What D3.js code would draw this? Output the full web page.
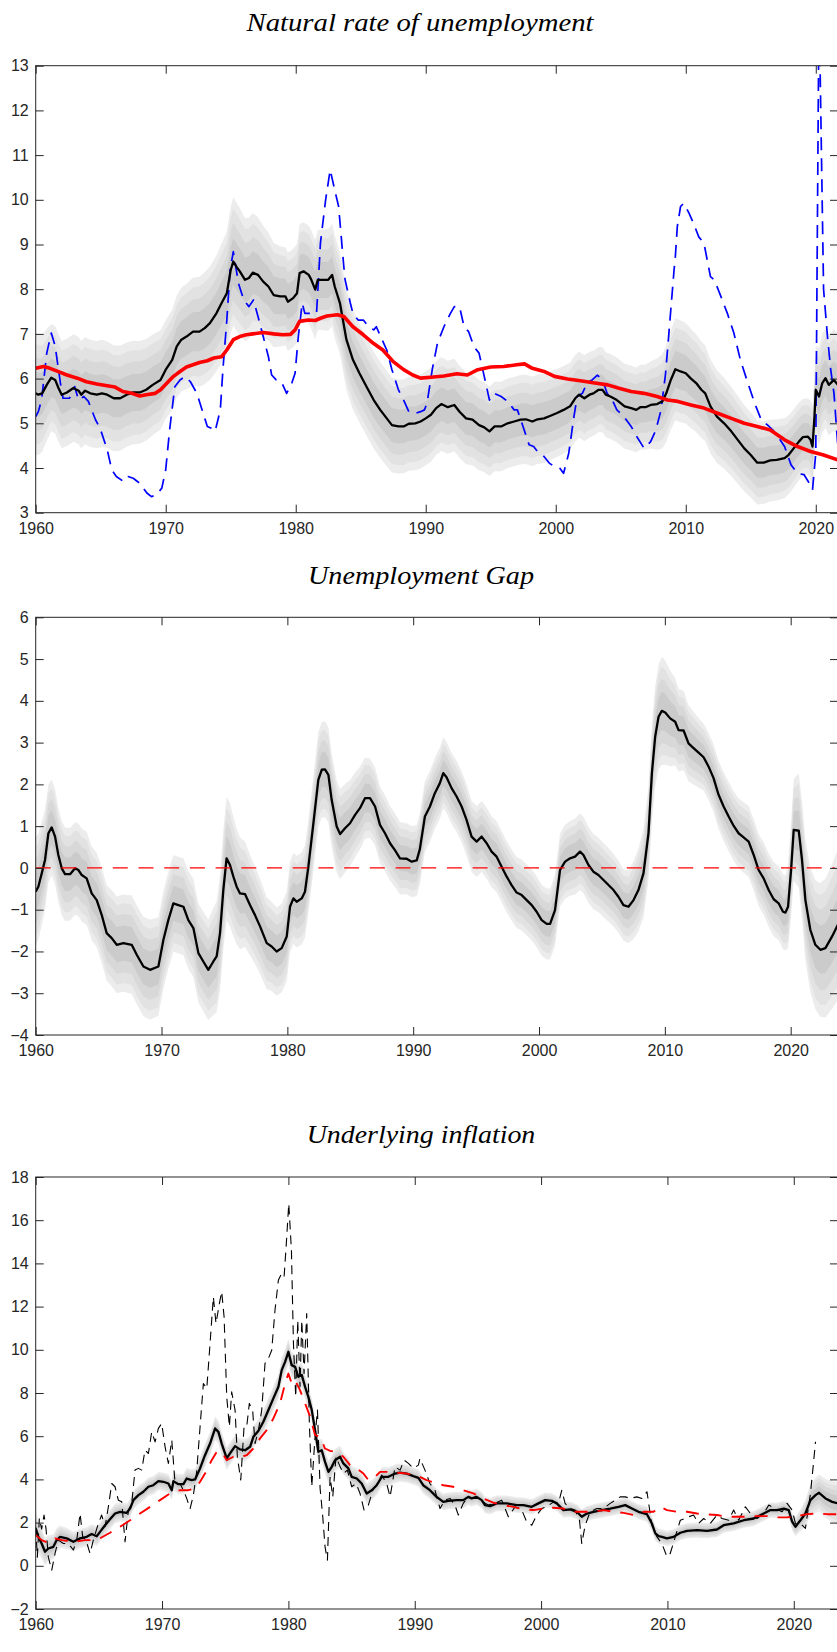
<!DOCTYPE html>
<html>
<head>
<meta charset="utf-8">
<script src="https://cdn.jsdelivr.net/npm/d3@7"></script>
<style>
  body { margin: 0; background: #fff; }
  svg { display: block; }
  .title { font-family: "Liberation Serif", "DejaVu Serif", serif; font-style: italic; fill: #000; }
</style>
</head>
<body>
<svg id="fig" width="837" height="1652"></svg>
<script>
// ---------- data ----------
var yearTicks = [1960, 1970, 1980, 1990, 2000, 2010, 2020];
var natTicks = [3, 4, 5, 6, 7, 8, 9, 10, 11, 12, 13];
var gapTicks = [-4, -3, -2, -1, 0, 1, 2, 3, 4, 5, 6];
var inflTicks = [-2, 0, 2, 4, 6, 8, 10, 12, 14, 16, 18];

// natural rate: median estimate
var natMedian = [[1960.0,5.67],[1960.2,5.64],[1960.5,5.67],[1960.85,5.86],[1961.2,6.02],[1961.5,5.97],[1961.75,5.79],[1962.0,5.64],[1962.4,5.69],[1962.9,5.79],[1963.3,5.73],[1963.5,5.64],[1963.8,5.73],[1964.2,5.67],[1964.7,5.64],[1965.1,5.67],[1965.5,5.64],[1966.0,5.56],[1966.5,5.56],[1967.0,5.64],[1967.5,5.69],[1968.0,5.69],[1968.5,5.75],[1969.0,5.86],[1969.6,5.97],[1970.0,6.2],[1970.5,6.42],[1970.85,6.72],[1971.2,6.87],[1971.6,6.94],[1972.1,7.05],[1972.6,7.05],[1973.0,7.13],[1973.4,7.24],[1973.9,7.46],[1974.3,7.69],[1974.7,7.91],[1975.0,8.43],[1975.2,8.62],[1975.45,8.5],[1975.7,8.40],[1976.1,8.21],[1976.4,8.25],[1976.7,8.37],[1977.1,8.32],[1977.5,8.17],[1977.9,8.06],[1978.3,7.87],[1978.8,7.84],[1979.2,7.84],[1979.4,7.72],[1979.8,7.80],[1980.1,7.91],[1980.3,8.36],[1980.6,8.40],[1981.0,8.32],[1981.2,8.21],[1981.5,7.99],[1981.7,8.21],[1982.1,8.21],[1982.5,8.21],[1982.8,8.32],[1983.0,8.06],[1983.4,7.69],[1983.9,6.87],[1984.4,6.42],[1984.9,6.12],[1985.5,5.79],[1986.0,5.52],[1986.5,5.30],[1987.0,5.11],[1987.4,4.96],[1987.9,4.93],[1988.3,4.93],[1988.7,4.99],[1989.2,5.00],[1989.6,5.04],[1990.0,5.11],[1990.4,5.19],[1990.8,5.34],[1991.2,5.43],[1991.7,5.36],[1992.2,5.41],[1992.6,5.26],[1993.1,5.11],[1993.6,5.08],[1994.1,4.96],[1994.5,4.91],[1994.9,4.82],[1995.3,4.93],[1995.8,4.93],[1996.3,5.0],[1996.8,5.04],[1997.3,5.08],[1997.7,5.09],[1998.2,5.04],[1998.6,5.09],[1999.1,5.11],[1999.6,5.17],[2000.1,5.23],[2000.6,5.30],[2001.1,5.38],[2001.5,5.56],[2001.8,5.64],[2002.2,5.56],[2002.6,5.64],[2002.9,5.67],[2003.3,5.75],[2003.6,5.75],[2003.85,5.64],[2004.2,5.60],[2004.7,5.52],[2005.3,5.38],[2005.8,5.34],[2006.2,5.30],[2006.5,5.36],[2006.9,5.36],[2007.3,5.41],[2007.8,5.43],[2008.2,5.49],[2008.5,5.67],[2008.85,5.97],[2009.2,6.21],[2009.6,6.16],[2010.0,6.12],[2010.4,6.0],[2010.8,5.90],[2011.2,5.75],[2011.5,5.67],[2011.9,5.38],[2012.4,5.15],[2012.95,5.0],[2013.5,4.82],[2014.0,4.63],[2014.5,4.44],[2015.0,4.29],[2015.5,4.12],[2016.0,4.12],[2016.5,4.17],[2017.0,4.18],[2017.6,4.22],[2017.9,4.29],[2018.3,4.44],[2018.7,4.59],[2019.0,4.69],[2019.4,4.70],[2019.6,4.63],[2019.75,4.48],[2019.9,5.15],[2020.0,5.75],[2020.25,5.60],[2020.5,5.90],[2020.75,6.01],[2021.0,5.86],[2021.4,5.97],[2021.7,5.86]];
// outer band half-width around the median
var natSpread = [[1960,1.38],[1961.2,1.2],[1963,1.2],[1965,1.2],[1968,1.15],[1970,1.1],[1972,1.2],[1974,1.3],[1975.3,1.45],[1977,1.3],[1979,1.1],[1981,1.1],[1983,1.15],[1985,1.1],[1988,1.05],[1991,1.05],[1995,1.0],[1999,1.0],[2003,0.95],[2007,0.95],[2009.3,1.15],[2012,1.05],[2015,0.95],[2019.5,0.85],[2020.3,1.1],[2021.7,1.15]];
// natural rate: smooth alternative estimate (red)
var natSmooth = [[1960.0,6.23],[1960.6,6.27],[1961.1,6.23],[1961.7,6.16],[1962.4,6.08],[1963.2,6.01],[1963.9,5.93],[1964.7,5.88],[1965.5,5.84],[1966.1,5.81],[1966.7,5.71],[1967.4,5.67],[1968.0,5.61],[1968.5,5.64],[1969.2,5.67],[1969.6,5.75],[1970.1,5.90],[1970.6,6.05],[1971.1,6.16],[1971.6,6.26],[1972.1,6.31],[1972.6,6.36],[1973.2,6.40],[1973.7,6.46],[1974.3,6.49],[1974.7,6.64],[1975.2,6.87],[1975.7,6.94],[1976.2,6.98],[1976.7,7.00],[1977.5,7.03],[1978.3,7.00],[1979.0,6.98],[1979.6,6.99],[1979.95,7.09],[1980.3,7.28],[1980.97,7.31],[1981.5,7.30],[1981.9,7.35],[1982.4,7.40],[1983.2,7.43],[1983.7,7.39],[1984.4,7.16],[1985.2,6.98],[1985.97,6.79],[1986.7,6.64],[1987.5,6.38],[1988.3,6.20],[1989.0,6.08],[1989.6,6.01],[1990.4,6.03],[1991.4,6.06],[1992.4,6.11],[1993.2,6.08],[1994.0,6.20],[1995.0,6.26],[1996.0,6.27],[1997.0,6.31],[1997.6,6.33],[1998.2,6.23],[1999.1,6.16],[1999.9,6.05],[2000.9,5.99],[2001.9,5.95],[2003.0,5.90],[2004.0,5.86],[2004.8,5.79],[2005.8,5.71],[2006.8,5.67],[2007.8,5.60],[2008.6,5.52],[2009.4,5.49],[2010.4,5.41],[2011.4,5.34],[2012.4,5.23],[2013.5,5.11],[2014.5,5.00],[2015.5,4.93],[2016.5,4.85],[2017.6,4.63],[2018.6,4.48],[2019.6,4.37],[2020.6,4.29],[2021.7,4.18]];
// unemployment rate (blue dashed)
var unempRate = [[1960.0,5.15],[1960.2,5.26],[1960.45,5.52],[1960.85,6.57],[1961.2,7.02],[1961.5,6.72],[1961.9,5.90],[1962.1,5.56],[1962.6,5.56],[1963.0,5.82],[1963.3,5.52],[1963.7,5.60],[1964.05,5.49],[1964.6,5.08],[1964.95,4.89],[1965.5,4.41],[1965.85,3.96],[1966.2,3.81],[1966.75,3.70],[1967.1,3.81],[1967.5,3.77],[1968.0,3.66],[1968.55,3.44],[1968.9,3.36],[1969.3,3.40],[1969.7,3.55],[1970.0,3.96],[1970.3,4.85],[1970.7,5.82],[1971.1,5.97],[1971.5,6.05],[1971.9,5.93],[1972.4,5.67],[1972.8,5.30],[1973.2,4.93],[1973.5,4.89],[1973.8,4.82],[1974.2,5.30],[1974.4,6.20],[1974.7,7.31],[1974.95,8.43],[1975.2,8.84],[1975.6,8.13],[1976.0,7.76],[1976.4,7.61],[1976.75,7.76],[1977.1,7.39],[1977.5,6.94],[1977.9,6.49],[1978.15,6.08],[1978.5,5.97],[1978.9,5.93],[1979.3,5.67],[1979.7,5.90],[1979.95,6.12],[1980.2,6.94],[1980.5,7.69],[1980.7,7.46],[1981.2,7.46],[1981.6,7.46],[1981.75,8.21],[1981.9,9.03],[1982.3,10.0],[1982.65,10.67],[1983.0,10.22],[1983.3,9.85],[1983.7,8.5],[1983.8,8.21],[1984.2,7.69],[1984.4,7.46],[1984.8,7.31],[1985.2,7.31],[1985.6,7.16],[1986.0,7.09],[1986.2,7.16],[1986.6,6.90],[1987.0,6.64],[1987.4,6.20],[1987.9,5.75],[1988.3,5.52],[1988.7,5.26],[1989.2,5.22],[1989.6,5.26],[1989.9,5.30],[1990.1,5.45],[1990.5,6.20],[1990.9,6.79],[1991.4,7.16],[1991.9,7.46],[1992.2,7.61],[1992.6,7.61],[1992.95,7.16],[1993.3,7.05],[1993.7,6.72],[1994.1,6.57],[1994.5,6.05],[1994.9,5.52],[1995.25,5.67],[1995.8,5.60],[1996.3,5.49],[1996.8,5.30],[1997.05,5.30],[1997.4,5.0],[1997.95,4.52],[1998.3,4.48],[1998.6,4.37],[1999.0,4.29],[1999.5,4.11],[1999.9,4.03],[2000.3,4.0],[2000.6,3.88],[2001.0,4.33],[2001.4,5.15],[2001.65,5.60],[2002.05,5.67],[2002.4,5.90],[2002.8,5.97],[2003.2,6.08],[2003.6,5.97],[2003.95,5.67],[2004.35,5.52],[2004.7,5.30],[2005.25,5.15],[2005.8,4.93],[2006.3,4.67],[2006.8,4.44],[2007.3,4.59],[2007.7,4.85],[2008.1,5.30],[2008.45,6.12],[2008.85,7.54],[2009.1,8.43],[2009.2,8.73],[2009.35,9.40],[2009.6,9.85],[2009.85,9.92],[2010.25,9.70],[2010.6,9.47],[2011.0,9.17],[2011.4,9.03],[2011.9,8.28],[2012.2,8.21],[2012.7,7.84],[2013.2,7.46],[2013.7,7.02],[2014.2,6.42],[2014.7,5.97],[2015.3,5.45],[2015.8,5.08],[2016.3,4.96],[2016.7,4.85],[2017.1,4.70],[2017.6,4.48],[2018.1,4.07],[2018.6,3.88],[2019.1,3.85],[2019.5,3.66],[2019.75,3.51],[2020.0,4.33],[2020.25,14.5],[2020.6,8.0],[2020.9,6.94],[2021.15,6.2],[2021.4,5.67],[2021.55,5.08],[2021.7,4.48]];

// unemployment gap: median
var gapMedian = [[1960.0,-0.57],[1960.21,-0.45],[1960.48,-0.13],[1960.74,0.19],[1961.01,0.83],[1961.27,0.97],[1961.54,0.75],[1961.8,0.31],[1962.07,-0.01],[1962.33,-0.15],[1962.73,-0.15],[1963.13,-0.01],[1963.39,-0.05],[1963.66,-0.17],[1964.05,-0.25],[1964.45,-0.61],[1964.85,-0.77],[1965.25,-1.13],[1965.64,-1.56],[1966.04,-1.68],[1966.44,-1.84],[1966.97,-1.80],[1967.63,-1.84],[1968.03,-2.08],[1968.56,-2.36],[1969.09,-2.44],[1969.75,-2.36],[1970.15,-1.72],[1970.54,-1.25],[1970.94,-0.85],[1971.34,-0.89],[1971.74,-0.93],[1972.13,-1.25],[1972.53,-1.44],[1972.93,-2.04],[1973.32,-2.24],[1973.72,-2.44],[1974.12,-2.24],[1974.38,-2.12],[1974.65,-1.56],[1974.91,-0.53],[1975.17,0.23],[1975.44,0.07],[1975.71,-0.21],[1975.97,-0.45],[1976.24,-0.61],[1976.64,-0.63],[1977.03,-0.89],[1977.43,-1.13],[1977.83,-1.40],[1978.36,-1.80],[1978.75,-1.88],[1979.15,-2.0],[1979.55,-1.92],[1979.95,-1.64],[1980.21,-0.93],[1980.48,-0.73],[1980.74,-0.81],[1981.14,-0.73],[1981.4,-0.57],[1981.67,0.03],[1982.07,1.07],[1982.46,2.11],[1982.73,2.35],[1982.99,2.36],[1983.26,2.23],[1983.52,1.63],[1983.92,0.99],[1984.19,0.81],[1984.58,0.95],[1984.98,1.07],[1985.38,1.27],[1985.77,1.43],[1986.17,1.67],[1986.57,1.67],[1986.97,1.47],[1987.36,1.03],[1987.76,0.83],[1988.16,0.59],[1988.56,0.42],[1988.95,0.23],[1989.48,0.22],[1989.88,0.15],[1990.28,0.18],[1990.53,0.45],[1990.93,1.23],[1991.33,1.47],[1991.72,1.79],[1992.12,2.03],[1992.39,2.27],[1992.65,2.17],[1993.05,1.91],[1993.45,1.71],[1993.85,1.47],[1994.24,1.15],[1994.64,0.75],[1995.04,0.63],[1995.44,0.75],[1995.84,0.59],[1996.23,0.39],[1996.63,0.27],[1997.03,0.03],[1997.43,-0.21],[1997.82,-0.41],[1998.22,-0.59],[1998.62,-0.65],[1999.02,-0.77],[1999.42,-0.89],[1999.81,-1.05],[2000.21,-1.25],[2000.61,-1.34],[2000.88,-1.34],[2001.27,-1.01],[2001.67,-0.05],[2002.07,0.15],[2002.47,0.23],[2002.86,0.27],[2003.26,0.39],[2003.53,0.31],[2003.93,0.07],[2004.32,-0.09],[2004.72,-0.17],[2005.12,-0.29],[2005.52,-0.41],[2005.92,-0.53],[2006.31,-0.69],[2006.71,-0.89],[2007.11,-0.93],[2007.51,-0.77],[2007.9,-0.53],[2008.3,-0.13],[2008.7,0.83],[2008.97,2.27],[2009.23,3.14],[2009.5,3.62],[2009.76,3.76],[2010.03,3.72],[2010.42,3.58],[2010.82,3.50],[2011.09,3.30],[2011.49,3.29],[2011.88,2.98],[2012.28,2.87],[2012.68,2.76],[2013.08,2.65],[2013.47,2.43],[2013.87,2.15],[2014.27,1.75],[2014.67,1.47],[2015.07,1.23],[2015.46,1.01],[2015.86,0.83],[2016.26,0.73],[2016.66,0.63],[2017.06,0.31],[2017.45,-0.05],[2017.85,-0.25],[2018.25,-0.53],[2018.65,-0.75],[2019.05,-0.85],[2019.39,-1.05],[2019.58,-1.07],[2019.79,-0.93],[2020.03,-0.05],[2020.24,0.91],[2020.64,0.89],[2020.9,0.19],[2021.17,-0.77],[2021.56,-1.48],[2021.96,-1.84],[2022.36,-1.96],[2022.76,-1.92],[2023.29,-1.64],[2023.75,-1.36]];
var gapSpread = [[1960,1.3],[1961.2,1.15],[1963,1.1],[1966,1.15],[1969,1.2],[1971,1.15],[1973.7,1.2],[1975.3,1.5],[1977,1.2],[1979,1.05],[1981,1.1],[1983,1.15],[1986.5,0.95],[1989.5,0.85],[1992.4,0.85],[1996,0.85],[2000.9,0.85],[2003.3,0.92],[2007,0.85],[2009.8,1.3],[2011,1.0],[2013,0.8],[2016.7,0.85],[2019.6,0.9],[2020.5,1.35],[2022,1.55],[2023.75,1.8]];
var gapZero = [[1960, 0], [2023.5, 0]];

// underlying inflation: median
var inflMedian = [[1960.0,1.73],[1960.21,1.34],[1960.47,1.03],[1960.74,0.65],[1961.0,0.80],[1961.4,0.88],[1961.66,1.19],[1961.93,1.34],[1962.45,1.27],[1962.98,1.11],[1963.51,1.27],[1964.04,1.34],[1964.43,1.47],[1964.83,1.37],[1965.09,1.57],[1965.49,1.88],[1965.88,2.15],[1966.28,2.42],[1966.68,2.50],[1967.2,2.45],[1967.47,2.65],[1967.73,3.04],[1968.13,3.27],[1968.52,3.43],[1968.92,3.66],[1969.31,3.73],[1969.71,3.92],[1970.11,3.89],[1970.5,3.81],[1970.77,3.50],[1970.9,3.92],[1971.29,3.78],[1971.69,3.78],[1971.95,4.04],[1972.35,3.97],[1972.61,4.0],[1973.01,4.51],[1973.4,5.12],[1973.8,5.66],[1974.2,6.36],[1974.46,6.20],[1974.72,5.66],[1975.12,4.97],[1975.38,5.20],[1975.78,5.54],[1976.17,5.39],[1976.57,5.35],[1976.97,5.51],[1977.23,5.97],[1977.63,6.25],[1978.02,6.67],[1978.42,7.21],[1978.81,7.75],[1979.21,8.29],[1979.47,9.06],[1979.74,9.44],[1980.0,9.91],[1980.26,9.29],[1980.53,9.21],[1980.79,8.75],[1981.06,8.83],[1981.32,8.29],[1981.58,7.82],[1981.85,7.21],[1982.11,6.28],[1982.37,5.28],[1982.64,5.35],[1982.9,4.81],[1983.17,4.35],[1983.43,4.58],[1983.69,4.89],[1984.09,5.05],[1984.35,4.74],[1984.75,4.51],[1985.01,4.12],[1985.41,4.04],[1985.8,3.81],[1986.2,3.35],[1986.6,3.50],[1986.99,3.73],[1987.39,4.12],[1987.92,4.12],[1988.44,4.27],[1988.84,4.31],[1989.37,4.27],[1989.89,4.15],[1990.29,4.07],[1990.67,3.73],[1991.2,3.50],[1991.73,3.19],[1992.26,2.96],[1992.66,3.01],[1993.32,3.04],[1993.84,3.04],[1994.24,3.19],[1994.5,3.12],[1994.9,3.19],[1995.3,3.04],[1995.56,2.81],[1995.96,2.76],[1996.49,2.89],[1997.28,2.89],[1998.07,2.81],[1998.6,2.81],[1999.26,2.73],[1999.79,2.89],[2000.32,3.04],[2000.85,3.01],[2001.24,2.89],[2001.77,2.58],[2002.3,2.61],[2002.83,2.50],[2003.22,2.27],[2003.62,2.42],[2004.15,2.50],[2004.81,2.58],[2005.47,2.65],[2006.13,2.73],[2006.66,2.81],[2007.19,2.65],[2007.71,2.50],[2008.38,2.39],[2008.77,1.96],[2009.04,1.50],[2009.3,1.37],[2009.56,1.34],[2009.96,1.27],[2010.49,1.34],[2011.02,1.53],[2011.55,1.62],[2012.34,1.65],[2013.13,1.62],[2013.92,1.68],[2014.45,1.88],[2015.24,1.96],[2016.04,2.11],[2016.83,2.19],[2017.62,2.42],[2018.15,2.58],[2018.68,2.58],[2019.21,2.65],[2019.6,2.58],[2019.87,2.04],[2020.13,1.81],[2020.53,2.11],[2020.92,2.42],[2021.32,3.04],[2021.72,3.27],[2022.0,3.38],[2022.51,3.12],[2023.04,2.96],[2023.5,2.89]];
var inflSpread = [[1960,0.8],[1961,0.6],[1963,0.45],[1966,0.45],[1970,0.42],[1974,0.55],[1977,0.5],[1980,0.6],[1982,0.55],[1985,0.5],[1990,0.4],[2000,0.35],[2010,0.35],[2019.5,0.35],[2020.5,0.5],[2021.5,0.8],[2023.5,1.0]];
// inflation: alternative trend (red dashed)
var inflTrend = [[1960.0,1.42],[1960.47,1.19],[1961.0,1.06],[1961.53,1.27],[1962.06,1.19],[1962.98,1.11],[1963.9,1.19],[1964.7,1.19],[1965.09,1.27],[1965.88,1.53],[1966.68,1.81],[1967.47,2.11],[1968.26,2.42],[1969.05,2.73],[1969.84,3.04],[1970.63,3.35],[1971.42,3.50],[1972.08,3.50],[1972.61,3.58],[1973.01,3.89],[1973.4,4.27],[1973.93,4.89],[1974.33,5.28],[1974.72,5.28],[1975.12,4.89],[1975.65,5.05],[1976.17,5.02],[1976.7,5.12],[1977.23,5.43],[1977.76,5.90],[1978.28,6.28],[1978.81,6.82],[1979.34,7.52],[1979.74,8.44],[1980.0,8.90],[1980.26,8.44],[1980.53,8.60],[1980.92,8.13],[1981.32,7.52],[1981.72,6.90],[1982.11,6.05],[1982.51,5.97],[1982.9,5.43],[1983.3,5.32],[1983.83,5.28],[1984.35,5.05],[1984.88,4.66],[1985.41,4.51],[1985.94,4.27],[1986.33,3.97],[1986.73,4.04],[1987.26,4.35],[1987.92,4.35],[1988.58,4.31],[1989.37,4.27],[1990.29,4.15],[1990.94,3.97],[1991.6,3.84],[1992.26,3.73],[1993.05,3.66],[1993.84,3.50],[1994.64,3.35],[1995.43,3.12],[1996.22,2.92],[1997.01,2.81],[1997.81,2.73],[1998.6,2.61],[1999.39,2.58],[2000.18,2.65],[2000.98,2.69],[2001.77,2.65],[2002.56,2.50],[2003.36,2.50],[2004.15,2.50],[2004.94,2.58],[2005.73,2.50],[2006.53,2.45],[2007.32,2.35],[2008.11,2.50],[2008.9,2.50],[2009.43,2.73],[2009.96,2.58],[2010.75,2.50],[2011.55,2.50],[2012.34,2.42],[2013.13,2.38],[2013.92,2.35],[2014.72,2.27],[2015.51,2.27],[2016.3,2.27],[2017.09,2.30],[2017.89,2.30],[2018.68,2.24],[2019.47,2.24],[2020.26,2.30],[2021.06,2.39],[2021.85,2.42],[2022.64,2.39],[2023.43,2.39]];
// measured inflation (thin black dashed)
var inflActual = [[1960.0,1.8],[1960.13,0.4],[1960.29,2.2],[1960.47,1.7],[1960.66,2.35],[1960.82,1.7],[1961.0,0.4],[1961.27,-0.2],[1961.53,0.57],[1961.79,1.19],[1962.19,1.03],[1962.59,1.03],[1962.98,0.73],[1963.25,1.19],[1963.51,2.42],[1963.72,1.34],[1963.98,1.19],[1964.3,0.57],[1964.56,1.19],[1964.96,1.96],[1965.22,2.35],[1965.49,1.81],[1965.75,2.73],[1966.02,3.81],[1966.28,3.66],[1966.54,3.04],[1966.81,2.96],[1967.07,1.11],[1967.34,2.58],[1967.6,2.89],[1967.86,4.43],[1968.13,4.51],[1968.39,4.43],[1968.65,5.35],[1968.92,5.20],[1969.18,6.20],[1969.45,5.74],[1969.71,6.36],[1969.97,6.59],[1970.24,5.51],[1970.5,4.74],[1970.77,5.82],[1971.03,3.81],[1971.42,3.81],[1971.69,3.50],[1971.95,3.12],[1972.22,2.65],[1972.48,3.27],[1972.74,4.35],[1973.01,6.44],[1973.27,8.44],[1973.54,8.21],[1973.8,10.29],[1974.06,12.45],[1974.27,11.22],[1974.54,12.15],[1974.72,12.69],[1974.91,11.53],[1975.12,7.82],[1975.33,6.44],[1975.51,8.05],[1975.78,7.21],[1975.96,5.05],[1976.23,3.97],[1976.49,6.44],[1976.7,6.44],[1976.91,7.52],[1977.18,7.13],[1977.36,5.66],[1977.63,6.28],[1977.89,7.21],[1978.15,9.37],[1978.42,9.60],[1978.68,9.98],[1978.94,11.84],[1979.21,13.23],[1979.47,13.53],[1979.66,13.38],[1979.82,14.77],[1980.03,16.77],[1980.24,14.61],[1980.4,10.29],[1980.58,7.82],[1980.74,11.37],[1980.92,8.29],[1981.06,11.37],[1981.24,8.90],[1981.45,11.68],[1981.66,6.59],[1981.85,3.66],[1982.11,5.97],[1982.3,7.21],[1982.51,3.58],[1982.72,2.27],[1982.9,0.88],[1983.09,0.26],[1983.3,4.12],[1983.51,3.19],[1983.77,5.05],[1984.04,4.66],[1984.35,4.27],[1984.67,4.43],[1985.01,3.66],[1985.36,3.81],[1985.67,3.35],[1985.99,2.58],[1986.33,2.81],[1986.68,3.50],[1987.05,3.81],[1987.39,4.20],[1987.78,3.81],[1988.05,3.19],[1988.44,4.58],[1988.84,4.43],[1989.16,4.89],[1989.5,4.74],[1989.89,4.51],[1990.29,4.66],[1990.41,4.97],[1990.81,4.43],[1991.2,3.81],[1991.6,3.50],[1992.0,2.65],[1992.39,3.04],[1992.79,3.12],[1993.18,2.81],[1993.45,2.35],[1993.84,2.89],[1994.24,3.19],[1994.64,3.12],[1995.03,3.12],[1995.43,2.96],[1995.83,2.81],[1996.35,2.89],[1996.88,3.04],[1997.41,2.27],[1997.94,2.73],[1998.47,2.58],[1998.86,2.04],[1999.26,1.88],[1999.66,2.35],[2000.05,2.65],[2000.45,2.73],[2000.98,2.96],[2001.37,2.89],[2001.64,3.50],[2001.9,2.89],[2002.3,2.65],[2002.69,2.58],[2003.04,2.11],[2003.22,1.03],[2003.49,1.88],[2003.88,2.50],[2004.41,2.65],[2004.94,2.65],[2005.47,2.89],[2005.87,3.04],[2006.26,3.19],[2006.66,3.19],[2007.05,3.12],[2007.58,3.19],[2007.98,3.12],[2008.38,3.43],[2008.77,1.88],[2009.17,1.34],[2009.56,1.03],[2009.96,0.42],[2010.22,0.57],[2010.62,1.34],[2011.02,2.11],[2011.41,2.19],[2011.68,2.27],[2012.07,2.35],[2012.47,1.96],[2012.87,2.19],[2013.39,1.96],[2013.92,2.35],[2014.32,2.19],[2014.85,2.11],[2015.24,2.58],[2015.64,2.11],[2016.17,2.73],[2016.57,2.42],[2017.09,2.19],[2017.62,2.42],[2018.02,2.81],[2018.55,2.65],[2019.08,2.50],[2019.47,2.89],[2019.87,2.58],[2020.13,1.96],[2020.53,1.96],[2020.92,1.73],[2021.32,3.35],[2021.53,4.58],[2021.72,5.74]];

// ---------- drawing ----------
var svg = d3.select('#fig');
var left = 35.7, right = 838;
var bandLevels = [1, 0.82, 0.6, 0.36];
var bandColors = ['#ececec', '#e2e2e2', '#d8d8d8', '#cbcbcb'];
var axisColor = '#262626';

var panels = [
  { id: 'nat', title: 'Natural rate of unemployment', titleX: 420, titleY: 30.5, titleW: 347,
    top: 65.7, bottom: 512.7, xEnd: 2021.71, yMin: 3, yMax: 13, yTicks: natTicks,
    median: natMedian, spread: natSpread,
    lines: [
      { data: unempRate, color: '#0000ff', width: 1.7, dash: '13,8' },
      { data: natMedian, color: '#000', width: 2.3 },
      { data: natSmooth, color: '#ff0000', width: 3.6 }
    ] },
  { id: 'gap', title: 'Unemployment Gap', titleX: 421, titleY: 584, titleW: 226,
    top: 617.3, bottom: 1035, xEnd: 2023.76, yMin: -4, yMax: 6, yTicks: gapTicks,
    median: gapMedian, spread: gapSpread,
    lines: [
      { data: gapMedian, color: '#000', width: 2.3 },
      { data: gapZero, color: '#ff0000', width: 1.3, dash: '15,10.7' }
    ] },
  { id: 'infl', title: 'Underlying inflation', titleX: 421, titleY: 1142.5, titleW: 228.6,
    top: 1177, bottom: 1609, xEnd: 2023.5, yMin: -2, yMax: 18, yTicks: inflTicks,
    median: inflMedian, spread: inflSpread,
    lines: [
      { data: inflActual, color: '#000', width: 1.1, dash: '9,6' },
      { data: inflMedian, color: '#000', width: 2.3 },
      { data: inflTrend, color: '#ff0000', width: 1.9, dash: '13,10' }
    ] }
];

panels.forEach(function (p) {
  var x = d3.scaleLinear().domain([1960, p.xEnd]).range([left, right]);
  var y = d3.scaleLinear().domain([p.yMin, p.yMax]).range([p.bottom, p.top]);
  var g = svg.append('g');

  g.append('clipPath').attr('id', 'clip-' + p.id)
    .append('rect')
    .attr('x', left).attr('y', p.top)
    .attr('width', right - left).attr('height', p.bottom - p.top);

  var plot = g.append('g').attr('clip-path', 'url(#clip-' + p.id + ')');

  // uncertainty bands around the median
  var hw = d3.scaleLinear()
    .domain(p.spread.map(function (d) { return d[0]; }))
    .range(p.spread.map(function (d) { return d[1]; }))
    .clamp(true);

  bandLevels.forEach(function (f, i) {
    var area = d3.area()
      .x(function (d) { return x(d[0]); })
      .y0(function (d) { return y(d[1] - f * hw(d[0])); })
      .y1(function (d) { return y(d[1] + f * hw(d[0])); });
    plot.append('path').datum(p.median)
      .attr('d', area)
      .attr('fill', bandColors[i]);
  });

  var line = d3.line()
    .x(function (d) { return x(d[0]); })
    .y(function (d) { return y(d[1]); });

  p.lines.forEach(function (s) {
    plot.append('path').datum(s.data)
      .attr('d', line)
      .attr('fill', 'none')
      .attr('stroke', s.color)
      .attr('stroke-width', s.width)
      .attr('stroke-linejoin', 'round')
      .attr('stroke-dasharray', s.dash || null);
  });

  // axes, ticks pointing inward
  function styleAxis(sel) {
    sel.select('.domain').remove();
    sel.attr('color', axisColor)
      .attr('font-family', '"Liberation Sans", Arial, sans-serif')
      .attr('font-size', 16);
    sel.selectAll('.tick line').attr('stroke-width', 1);
  }

  g.append('g').attr('transform', 'translate(0,' + p.bottom + ')')
    .call(d3.axisBottom(x).tickValues(yearTicks).tickSize(-8).tickPadding(10).tickFormat(d3.format('d')))
    .call(styleAxis);
  g.append('g').attr('transform', 'translate(0,' + p.top + ')')
    .call(d3.axisTop(x).tickValues(yearTicks).tickSize(-8).tickFormat(''))
    .call(styleAxis);
  g.append('g').attr('transform', 'translate(' + left + ',0)')
    .call(d3.axisLeft(y).tickValues(p.yTicks).tickSize(-8).tickPadding(7).tickFormat(d3.format('d')))
    .call(styleAxis);
  g.append('g').attr('transform', 'translate(' + right + ',0)')
    .call(d3.axisRight(y).tickValues(p.yTicks).tickSize(-8).tickFormat(''))
    .call(styleAxis);

  g.append('rect')
    .attr('x', left).attr('y', p.top)
    .attr('width', right - left).attr('height', p.bottom - p.top)
    .attr('fill', 'none')
    .attr('stroke', axisColor)
    .attr('stroke-width', 1);

  svg.append('text')
    .attr('class', 'title')
    .attr('x', p.titleX).attr('y', p.titleY)
    .attr('text-anchor', 'middle')
    .attr('font-size', 26)
    .attr('textLength', p.titleW)
    .attr('lengthAdjust', 'spacingAndGlyphs')
    .text(p.title);
});
</script>
</body>
</html>
